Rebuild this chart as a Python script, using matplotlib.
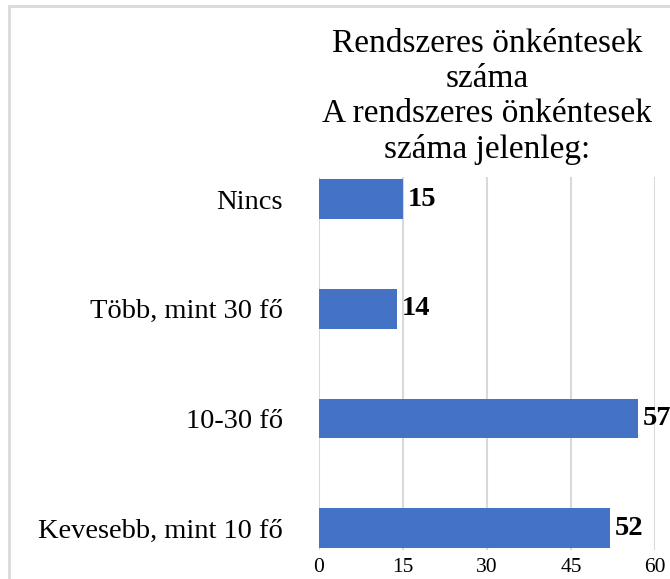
import matplotlib.pyplot as plt
from matplotlib.patches import Rectangle

# data
categories = ["Kevesebb, mint 10 fő", "10-30 fő", "Több, mint 30 fő", "Nincs"]
values = [52, 57, 14, 15]
xticks = [0, 15, 30, 45, 60]
title = "Rendszeres önkéntesek\nszáma\nA rendszeres önkéntesek\nszáma jelenleg:"

plt.rcParams['font.family'] = ['Liberation Serif', 'DejaVu Serif']

fig = plt.figure(figsize=(6.7, 5.79), dpi=100)
ax = fig.add_axes([0.476, 0.050, 0.502, 0.644])

# light grey frame round the chart area
fig.patches.append(Rectangle((9 / 670, -0.05), 1.2, 1 - 6 / 579 + 0.05,
                             transform=fig.transFigure, fill=False,
                             edgecolor='#d9d9d9', linewidth=2, zorder=0))

ypos = list(range(len(categories)))
ax.barh(ypos, values, height=0.36, color='#4472c4', zorder=3)

for y, v in zip(ypos, values):
    ax.text(v + 0.8, y, str(v), va='center', ha='left', fontsize=20.5,
            fontweight='bold', zorder=4, clip_on=False)

ax.set_xlim(0, 60)
ax.set_ylim(-0.2, 3.2)
ax.set_xticks(xticks)
ax.set_yticks(ypos)
ax.set_yticklabels(categories, fontsize=20.5)
ax.tick_params(axis='x', labelsize=15.5, length=0, pad=6)
ax.tick_params(axis='y', length=0, pad=26)
ax.grid(axis='x', color='#d9d9d9', linewidth=1.5, zorder=0)
for s in ax.spines.values():
    s.set_visible(False)

ax.set_title(title, fontsize=24, linespacing=1.2, pad=14)

fig.savefig("out.png", dpi=100)
